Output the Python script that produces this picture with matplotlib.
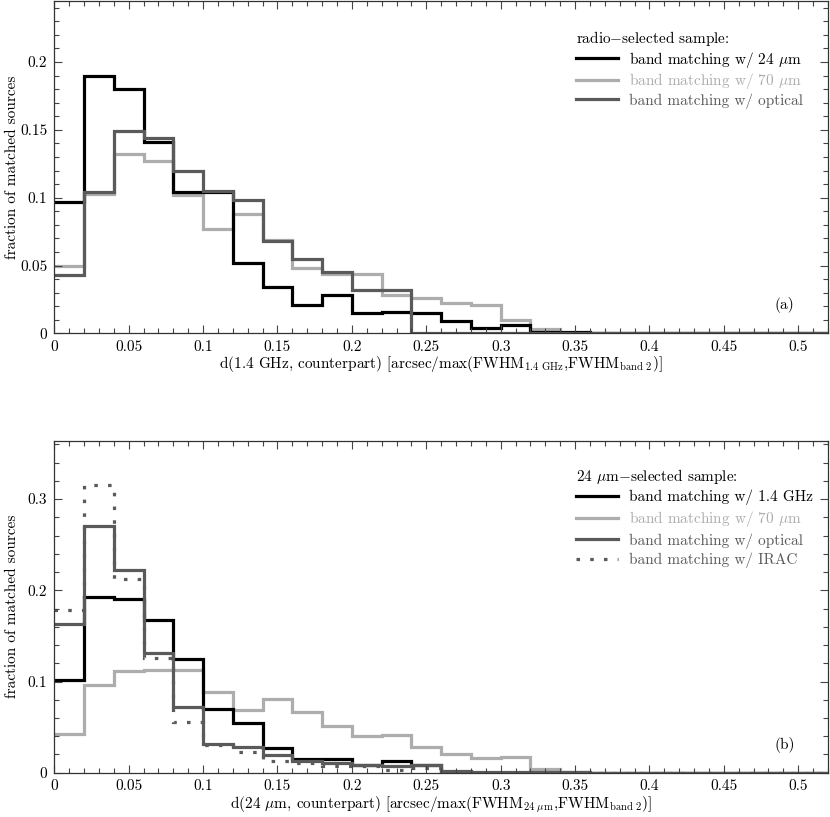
import numpy as np
import matplotlib
matplotlib.use("Agg")
import matplotlib.pyplot as plt
from matplotlib.ticker import MultipleLocator, FuncFormatter

plt.rcParams['font.family'] = 'serif'
plt.rcParams['font.serif'] = ['cmr10', 'DejaVu Serif']
plt.rcParams['mathtext.fontset'] = 'cm'
plt.rcParams['axes.formatter.use_mathtext'] = True
plt.rcParams['axes.unicode_minus'] = False

# bin edges in normalised distance (0.02 wide bins)
bin_edges = np.round(np.arange(0, 0.5201, 0.02), 2)

# (a) radio-selected sample
radio_24um = [0.097, 0.190, 0.180, 0.141, 0.104, 0.104, 0.052, 0.034, 0.021, 0.028,
              0.015, 0.016, 0.015, 0.009, 0.004, 0.006, 0.001, 0.001, 0, 0,
              0, 0, 0, 0, 0, 0]
radio_70um = [0.050, 0.103, 0.132, 0.127, 0.102, 0.077, 0.088, 0.069, 0.048, 0.044,
              0.044, 0.028, 0.026, 0.022, 0.021, 0.010, 0.003, 0, 0, 0,
              0, 0, 0, 0, 0, 0]
radio_opt = [0.043, 0.104, 0.149, 0.144, 0.120, 0.105, 0.098, 0.068, 0.055, 0.045,
             0.032, 0.032, 0, 0, 0, 0, 0, 0, 0, 0,
             0, 0, 0, 0, 0, 0]

# (b) 24 um-selected sample
mips_14ghz = [0.102, 0.193, 0.190, 0.167, 0.125, 0.070, 0.055, 0.027, 0.015, 0.015,
              0.009, 0.013, 0.008, 0.001, 0, 0, 0, 0, 0, 0,
              0, 0, 0, 0, 0, 0]
mips_70um = [0.042, 0.096, 0.111, 0.113, 0.113, 0.089, 0.069, 0.081, 0.067, 0.051,
             0.040, 0.041, 0.028, 0.020, 0.016, 0.017, 0.004, 0.001, 0, 0,
             0, 0, 0, 0, 0, 0]
mips_opt = [0.163, 0.270, 0.222, 0.131, 0.072, 0.032, 0.028, 0.019, 0.013, 0.011,
            0.008, 0.007, 0.008, 0.002, 0.001, 0.001, 0.0005, 0.0005, 0, 0,
            0, 0, 0, 0, 0, 0]
mips_irac = [0.178, 0.315, 0.212, 0.126, 0.056, 0.030, 0.023, 0.013, 0.011, 0.007,
             0.007, 0.003, 0.005, 0, 0, 0, 0, 0, 0, 0,
             0, 0, 0, 0, 0, 0]

BLACK = '#000000'
LIGHT = '#adadad'
DARK = '#5a5a5a'
LW = 2.3
FS = 11

fig = plt.figure(figsize=(8.30, 8.17), dpi=100)
ax1 = fig.add_axes([0.0654, 0.592, 0.9322, 0.4068])
ax2 = fig.add_axes([0.0654, 0.0542, 0.9322, 0.4064])

fmt = FuncFormatter(lambda v, p: '%g' % round(v, 3))


def style(ax, ymax, ymajor, yminor):
    ax.set_xlim(0, 0.52)
    ax.set_ylim(0, ymax)
    ax.xaxis.set_major_locator(MultipleLocator(0.05))
    ax.xaxis.set_minor_locator(MultipleLocator(0.01))
    ax.yaxis.set_major_locator(MultipleLocator(ymajor))
    ax.yaxis.set_minor_locator(MultipleLocator(yminor))
    ax.xaxis.set_major_formatter(fmt)
    ax.yaxis.set_major_formatter(fmt)
    ax.tick_params(which='both', direction='in', top=True, right=True,
                   labelsize=FS, width=0.8, color='#444444')
    ax.tick_params(which='major', length=6, pad=5)
    ax.tick_params(which='minor', length=3.5)
    for s in ax.spines.values():
        s.set_linewidth(0.9)
        s.set_color('#333333')
    ax.set_ylabel('fraction of matched sources', fontsize=FS)
    ax.yaxis.set_label_coords(-0.045, 0.5)


def add_legend(ax, order, title, top, spacing):
    h, l = ax.get_legend_handles_labels()
    ax.legend([h[i] for i in order], [l[i] for i in order],
              title=title, loc='upper left',
              bbox_to_anchor=(0.667, top), frameon=False, fontsize=FS,
              title_fontsize=FS, alignment='left', handlelength=2.7,
              handletextpad=0.75, labelspacing=spacing, labelcolor='linecolor',
              borderaxespad=0)


# top panel
ax1.stairs(radio_70um, bin_edges, baseline=None, color=LIGHT, lw=LW,
           label=r'band matching w/ 70 $\mu$m')
ax1.stairs(radio_24um, bin_edges, baseline=None, color=BLACK, lw=LW,
           label=r'band matching w/ 24 $\mu$m')
ax1.stairs(radio_opt, bin_edges, baseline=None, color=DARK, lw=LW,
           label='band matching w/ optical')
style(ax1, 0.245, 0.05, 0.01)
ax1.set_xlabel(r'd(1.4 GHz, counterpart) [arcsec/max(FWHM$_{\rm 1.4\ GHz}$,FWHM$_{\rm band\ 2}$)]',
               fontsize=FS, labelpad=0)
add_legend(ax1, [1, 0, 2], r'radio$-$selected sample:', 0.935, 0.12)
ax1.text(0.944, 0.085, '(a)', transform=ax1.transAxes, fontsize=FS,
         ha='center', va='center')

# bottom panel
ax2.stairs(mips_70um, bin_edges, baseline=None, color=LIGHT, lw=LW,
           label=r'band matching w/ 70 $\mu$m')
ax2.stairs(mips_14ghz, bin_edges, baseline=None, color=BLACK, lw=LW,
           label='band matching w/ 1.4 GHz')
ax2.stairs(mips_opt, bin_edges, baseline=None, color=DARK, lw=LW,
           label='band matching w/ optical')
ax2.stairs(mips_irac, bin_edges, baseline=None, color=DARK, lw=LW,
           linestyle=(0, (1.1, 3.2)), label='band matching w/ IRAC')
style(ax2, 0.364, 0.1, 0.02)
ax2.set_xlabel(r'd(24 $\mu$m, counterpart) [arcsec/max(FWHM$_{\rm 24\ \mu m}$,FWHM$_{\rm band\ 2}$)]',
               fontsize=FS, labelpad=1)
add_legend(ax2, [1, 0, 2, 3], r'24 $\mu$m$-$selected sample:', 0.94, 0.26)
ax2.text(0.944, 0.083, '(b)', transform=ax2.transAxes, fontsize=FS,
         ha='center', va='center')

fig.savefig('out.png', dpi=100)
